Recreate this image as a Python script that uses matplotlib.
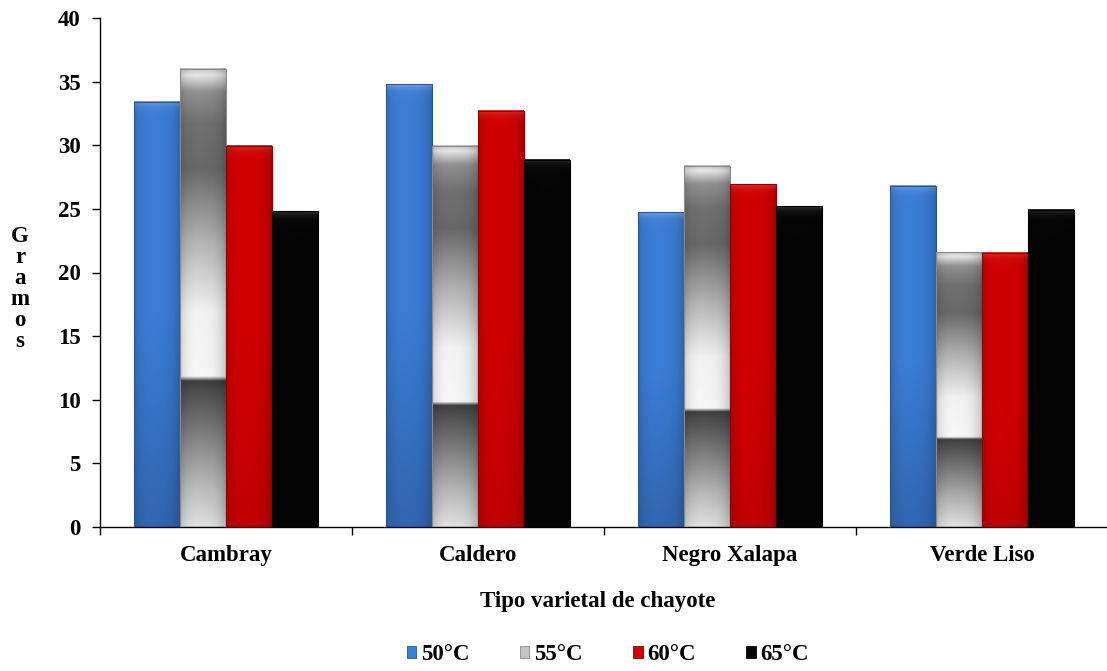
import numpy as np
import matplotlib
matplotlib.use('Agg')
from matplotlib import pyplot as plt
from matplotlib.patches import Patch

# Peso promedio (g) por variedad y temperatura de secado
variedades = ['Cambray', 'Caldero', 'Negro Xalapa', 'Verde Liso']
temperaturas = ['50°C', '55°C', '60°C', '65°C']
g_50 = [33.4, 34.8, 24.75, 26.8]
g_55 = [36.0, 29.95, 28.4, 21.6]
g_60 = [29.95, 32.7, 26.95, 21.55]
g_65 = [24.8, 28.85, 25.2, 24.95]

plt.rcParams['font.family'] = ['Liberation Serif', 'DejaVu Serif']
plt.rcParams['font.weight'] = 'bold'
plt.rcParams['font.size'] = 16.5


def bar_image(kind, h, nrows=400, ncols=48):
    '''
        Builds the shaded RGB fill of one bar (origin at the bottom)
    '''
    y = np.linspace(0, h, nrows)[:, None]
    f = y / h
    x = np.linspace(0, 1, ncols)[None, :]
    side = 1 - 0.16 * np.abs(2 * x - 1) ** 3 - 0.05 * x
    cap = np.exp(-(h - y) / 0.3)

    if kind == 'gray':
        fp = [0.0, 0.10, 0.30, 0.318, 0.328, 0.47, 0.62, 0.78, 0.88, 0.95, 0.985, 1.0]
        vp = [0.90, 0.72, 0.30, 0.25, 0.99, 0.97, 0.72, 0.42, 0.45, 0.58, 0.92, 0.80]
        g = np.interp(f, fp, vp) * side
        return np.clip(np.dstack([g, g, g]), 0, 1)

    if kind == 'blue':
        base = np.array([0.24, 0.50, 0.86])
        v = 0.82 + 0.18 * np.clip(f / 0.5, 0, 1)
        hl = 0.30
    elif kind == 'red':
        base = np.array([0.84, 0.0, 0.0])
        v = 0.92 + 0.08 * np.clip(f / 0.5, 0, 1)
        hl = 0.22
    else:
        base = np.array([0.02, 0.02, 0.02])
        v = np.ones_like(f)
        hl = 0.18
    rgb = base[None, None, :] * (v * side)[:, :, None]
    rgb = rgb + (hl * cap)[:, :, None] * (1 - rgb)
    return np.clip(rgb, 0, 1)


fig = plt.figure(figsize=(11.07, 6.71), dpi=100)
ax = fig.add_axes([100 / 1107, 144 / 671, 1008 / 1107, 509 / 671])

series = [g_50, g_55, g_60, g_65]
kinds = ['blue', 'gray', 'red', 'black']
edges = ['#2a5590', '#8a8a8a', '#8c0000', '#000000']
swatch = ['#3a7fd6', '#c4c4c4', '#d40000', '#080808']
width = 1 / 5.5
centers = np.arange(len(variedades)) + 0.5

for i, (vals, kind) in enumerate(zip(series, kinds)):
    xs = centers + (i - 1.5) * width
    for xc, h in zip(xs, vals):
        ax.imshow(bar_image(kind, h), extent=[xc - width / 2, xc + width / 2, 0, h],
                  origin='lower', aspect='auto', interpolation='bilinear', zorder=2)
    ax.bar(xs, vals, width=width, fill=False, edgecolor=edges[i], linewidth=0.8, zorder=3)

ax.set_xlim(0, 4)
ax.set_ylim(0, 40)

# Category boundaries as major ticks, names centred as minor ticks
ax.set_xticks([0, 1, 2, 3, 4])
ax.set_xticklabels([])
ax.set_xticks(centers, minor=True)
ax.set_xticklabels(variedades, minor=True)
ax.tick_params(axis='x', which='major', direction='out', length=6, width=1)
ax.tick_params(axis='x', which='minor', length=0, pad=13)
ax.set_yticks(np.arange(0, 41, 5))
ax.tick_params(axis='y', direction='out', length=6, width=1, pad=8)

for s in ['top', 'right']:
    ax.spines[s].set_visible(False)
for s in ['left', 'bottom']:
    ax.spines[s].set_linewidth(1)

fig.text(20 / 1107, 1 - 289 / 671, '\n'.join('Gramos'), ha='center', va='center',
         linespacing=1.0)
fig.text(0.540, 1 - 601 / 671, 'Tipo varietal de chayote', ha='center', va='center')

handles = [Patch(facecolor=c, edgecolor=e, linewidth=0.6) for c, e in zip(swatch, edges)]
fig.legend(handles, temperaturas, loc='center', bbox_to_anchor=(0.549, 1 - 655 / 671),
           ncol=4, frameon=False, handlelength=0.42, handleheight=0.42,
           handletextpad=0.2, columnspacing=2.2)

fig.savefig('out.png', dpi=100)
